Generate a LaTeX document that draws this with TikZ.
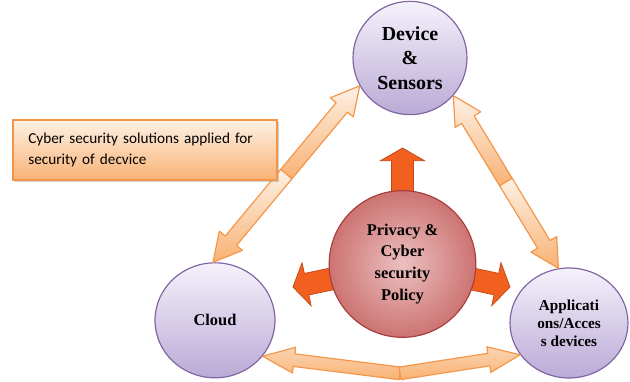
\documentclass[tikz,border=0pt]{standalone}
\usepackage{fontspec}
\setmainfont{Liberation Serif}
\newfontfamily\boxfont{Carlito}
\usetikzlibrary{calc,shapes.geometric,shadows}

\definecolor{lavtop}{RGB}{245,242,251}
\definecolor{lavbot}{RGB}{186,170,214}
\definecolor{lavline}{RGB}{128,100,162}
\definecolor{roseinner}{RGB}{236,192,192}
\definecolor{roseouter}{RGB}{204,116,114}
\definecolor{roseline}{RGB}{170,62,60}
\definecolor{peachtop}{RGB}{254,241,229}
\definecolor{peachbot}{RGB}{248,178,116}
\definecolor{peachline}{RGB}{244,150,74}
\definecolor{flame}{RGB}{241,96,30}
\definecolor{flameline}{RGB}{196,72,24}

\newcommand{\halfarrow}[6][]{%
  \path[#1] ($(#2)!#4!90:(#3)$)
    -- ($(#3)!#6!(#2)!#4!90:(#3)$)
    -- ($(#3)!#6!(#2)!#5!90:(#3)$)
    -- (#3)
    -- ($(#3)!#6!(#2)!#5!-90:(#3)$)
    -- ($(#3)!#6!(#2)!#4!-90:(#3)$)
    -- ($(#2)!#4!-90:(#3)$) -- cycle;}

\tikzset{
  bubble/.style={ellipse, draw=lavline, line width=1pt, top color=lavtop, bottom color=lavbot,
    align=center, inner sep=0pt, font=\bfseries},
  policy/.style={circle, draw=roseline, line width=1pt, inner color=roseinner, outer color=roseouter,
    align=center, inner sep=0pt, minimum size=4.4cm, font=\fontsize{14}{18.7}\selectfont\bfseries},
  notebox/.style={rectangle, draw=peachline, line width=1pt, top color=peachtop, bottom color=peachbot,
    text width=7cm, align=left, inner xsep=0.46cm, minimum height=1.8cm,
    drop shadow={opacity=0.35, shadow xshift=2pt, shadow yshift=-2pt},
    font=\boxfont\fontsize{13}{18.4}\selectfont},
  linkarrow/.style={draw=peachline, line width=1pt, line join=round, top color=peachtop, bottom color=peachbot},
  flatlink/.style={linkarrow, top color=peachbot!45!peachtop},
  pusharrow/.style={draw=flameline, line width=0.6pt, fill=flame}
}

\begin{document}
\begin{tikzpicture}
	\useasboundingbox (0,0) rectangle (18.9,11.46);

	\node[bubble, minimum width=3.42cm, minimum height=3.4cm, font=\fontsize{17}{21}\selectfont\bfseries](dev) at (12.30,9.72) {Device\\\&\\Sensors};
	\node[bubble, minimum width=3.6cm, minimum height=3.45cm, font=\fontsize{14}{18}\selectfont\bfseries](cloud) at (6.45,1.85) {Cloud};
	\node[bubble, minimum width=3.54cm, minimum height=3.3cm, font=\fontsize{13}{15.4}\selectfont\bfseries](apps) at (17.07,1.77) {Applicati\\ons/Acces\\s devices};
	\coordinate (pc) at (12.075,3.54);
	\coordinate (kink) at (12.0,0.26);

	\coordinate (lmid) at ($(dev.209)!0.5!(cloud.92)$);
	\coordinate (rmid) at ($(dev.-41)!0.5!(apps.101)$);
	\halfarrow[linkarrow]{lmid}{dev.209}{0.22cm}{0.45cm}{0.84cm}
	\halfarrow[linkarrow]{lmid}{cloud.92}{0.22cm}{0.45cm}{0.84cm}
	\halfarrow[linkarrow]{rmid}{dev.-41}{0.22cm}{0.45cm}{0.84cm}
	\halfarrow[linkarrow]{rmid}{apps.101}{0.22cm}{0.45cm}{0.84cm}
	\halfarrow[flatlink]{kink}{cloud.-37}{0.19cm}{0.39cm}{0.95cm}
	\halfarrow[flatlink]{kink}{apps.213}{0.19cm}{0.39cm}{0.95cm}

	\node[notebox](note) at (4.35,6.96) {Cyber security solutions applied for security of decvice};

	\coordinate (up) at ($(pc)+(90:3.48)$);
	\coordinate (left) at ($(pc)+(191.9:3.36)$);
	\coordinate (right) at ($(pc)+(-12.1:3.3)$);
	\halfarrow[pusharrow]{pc}{up}{0.33cm}{0.66cm}{0.38cm}
	\halfarrow[pusharrow]{pc}{left}{0.33cm}{0.66cm}{0.42cm}
	\halfarrow[pusharrow]{pc}{right}{0.33cm}{0.66cm}{0.42cm}

	\node[policy](priv) at (pc) {Privacy \&\\Cyber\\security\\Policy};
\end{tikzpicture}
\end{document}
